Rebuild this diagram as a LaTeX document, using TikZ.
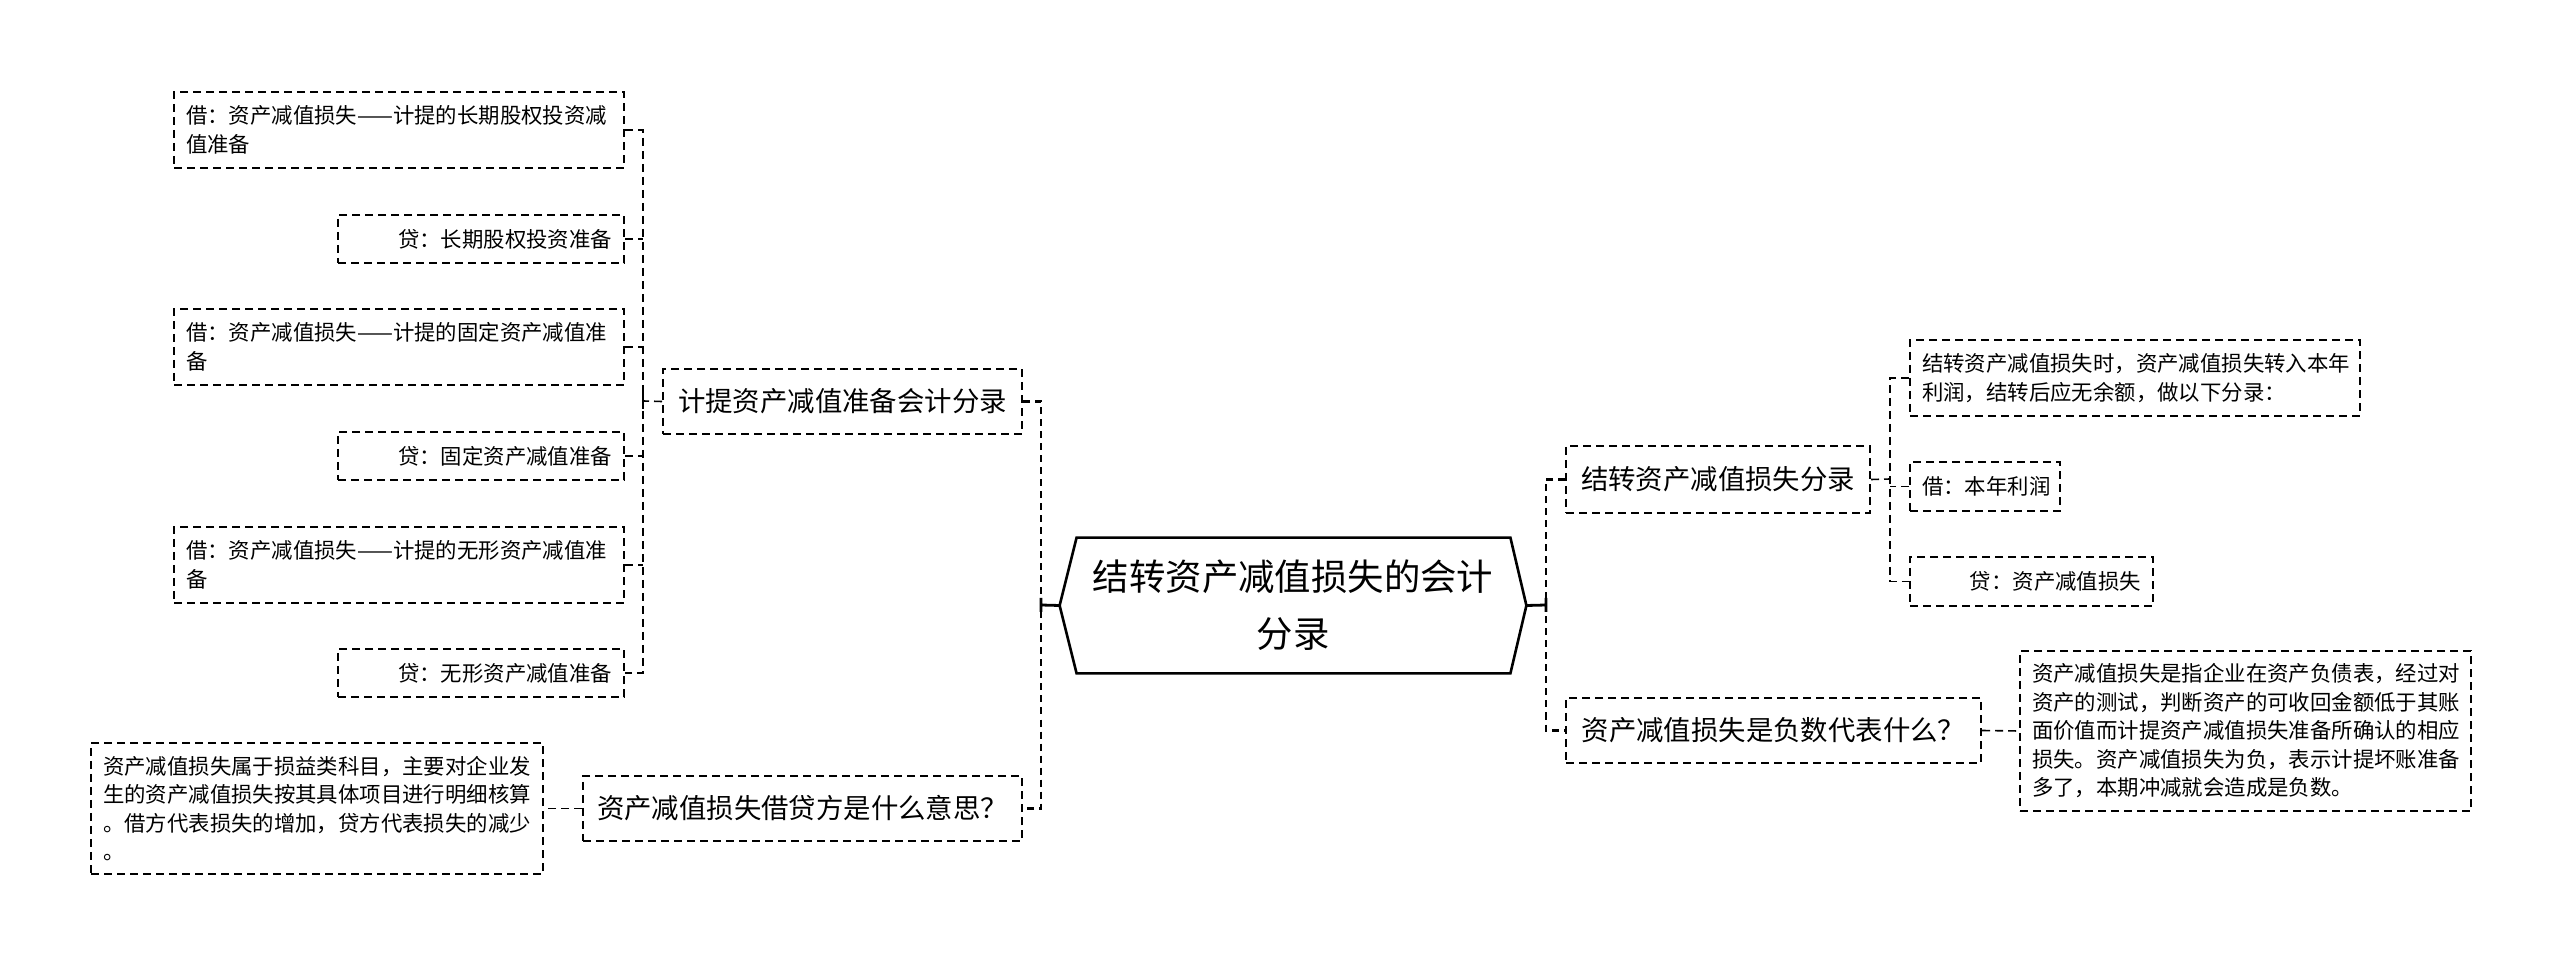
\documentclass[tikz,border=0pt]{standalone}
\usepackage{fontspec}
\setmainfont{Noto Sans CJK SC}
\tikzset{
  box/.style={draw=black, line width=1pt, dash pattern=on 4pt off 2.5pt, inner xsep=6pt, inner ysep=0pt, text=black},
  leaf/.style={box, font=\fontsize{10.7pt}{14.25pt}\selectfont, align=left},
  leafr/.style={box, font=\fontsize{10.7pt}{14.25pt}\selectfont, align=right},
  mid/.style={box, font=\fontsize{13.7pt}{16pt}\selectfont, align=center, inner xsep=0pt},
  ldash/.style={draw=black, line width=0.8pt, dash pattern=on 4pt off 2.5pt},
  cdash/.style={draw=black, line width=1.4pt, dash pattern=on 3.5pt off 2.5pt},
  csolid/.style={draw=black, line width=1.4pt},
}
\begin{document}
\begin{tikzpicture}[x=0.5pt, y=-0.5pt]
\useasboundingbox[fill=white] (0,0) rectangle (2560,967);

% central node
\node[minimum width=233pt, minimum height=67.5pt, inner sep=0pt, align=center,
      font=\fontsize{18.2pt}{28.5pt}\selectfont] (c) at (1293,605.5) {结转资产减值损失的会计\\分录};
\draw[line width=1.3pt, line join=miter] (c.west) -- ([xshift=8.5pt]c.north west) -- ([xshift=-8pt]c.north east) -- (c.east) -- ([xshift=-8pt]c.south east) -- ([xshift=8.5pt]c.south west) -- cycle;

% left mid nodes
\node[mid, minimum width=179.5pt, minimum height=32.5pt] (p1) at (842.5,401.5) {计提资产减值准备会计分录};
\node[mid, minimum width=219.5pt, minimum height=32.5pt] (p2) at (802.5,808.5) {资产减值损失借贷方是什么意思？};

% left leaves
\node[leaf, minimum width=225pt, text width=213pt, minimum height=38pt] (l1) at (399,130) {借：资产减值损失——计提的长期股权投资减\\值准备};
\node[leafr, minimum width=143pt, text width=131pt, minimum height=24pt] (l2) at (481,239) {贷：长期股权投资准备};
\node[leaf, minimum width=225pt, text width=213pt, minimum height=38pt] (l3) at (399,347) {借：资产减值损失——计提的固定资产减值准\\备};
\node[leafr, minimum width=143pt, text width=131pt, minimum height=24pt] (l4) at (481,456) {贷：固定资产减值准备};
\node[leaf, minimum width=225pt, text width=213pt, minimum height=38pt] (l5) at (399,565) {借：资产减值损失——计提的无形资产减值准\\备};
\node[leafr, minimum width=143pt, text width=131pt, minimum height=24pt] (l6) at (481,673) {贷：无形资产减值准备};
\node[leaf, minimum width=226pt, text width=214pt, minimum height=65.5pt] (l7) at (317,808.5) {资产减值损失属于损益类科目，主要对企业发\\生的资产减值损失按其具体项目进行明细核算\\。借方代表损失的增加，贷方代表损失的减少\\。};

% right mid nodes
\node[mid, minimum width=152pt, minimum height=33.5pt] (r1) at (1718,479.5) {结转资产减值损失分录};
\node[mid, minimum width=207.5pt, minimum height=32.5pt] (r2) at (1773.5,730.5) {资产减值损失是负数代表什么？};

% right leaves
\node[leaf, minimum width=225pt, text width=213pt, minimum height=38pt] (ra) at (2135,378) {结转资产减值损失时，资产减值损失转入本年\\利润，结转后应无余额，做以下分录：};
\node[leaf, minimum width=75pt, text width=63pt, minimum height=24.5pt] (rb) at (1985,486.5) {借：本年利润};
\node[leafr, minimum width=121.5pt, text width=109.5pt, minimum height=24.5pt] (rc) at (2031.5,581.5) {贷：资产减值损失};
\node[leaf, minimum width=225.5pt, text width=213.5pt, minimum height=80pt] (rd) at (2245.5,731) {资产减值损失是指企业在资产负债表，经过对\\资产的测试，判断资产的可收回金额低于其账\\面价值而计提资产减值损失准备所确认的相应\\损失。资产减值损失为负，表示计提坏账准备\\多了，本期冲减就会造成是负数。};

% junction coordinates
\coordinate (jl) at (1041,605);
\coordinate (jr) at (1546,605);
\coordinate (jx) at (643,401);
\coordinate (jy) at (1890,479);

% center connectors
\draw[csolid] (c.west) -- (jl) ++(0,-7) -- ++(0,14);
\draw[csolid] (c.east) -- (jr) ++(0,-7) -- ++(0,14);
\draw[cdash] (p1.east) -- (p1.east -| jl) -- (p2.east -| jl) -- (p2.east);
\draw[cdash] (r1.west) -- (r1.west -| jr) -- (r2.west -| jr) -- (r2.west);

% left leaf connectors
\draw[ldash] (p1.west) -- (jx);
\draw[line width=0.8pt] (jx) ++(0,-8) -- ++(0,16);
\draw[ldash] (l1.east) -- (l1.east -| jx) -- (l6.east -| jx) -- (l6.east);
\draw[ldash] (l2.east) -- (l2.east -| jx);
\draw[ldash] (l3.east) -- (l3.east -| jx);
\draw[ldash] (l4.east) -- (l4.east -| jx);
\draw[ldash] (l5.east) -- (l5.east -| jx);
\draw[ldash] (p2.west) -- (l7.east);

% right leaf connectors
\draw[ldash] (r1.east) -- (jy);
\draw[ldash] (ra.west) -- (ra.west -| jy) -- (rc.west -| jy) -- (rc.west);
\draw[ldash] (rb.west) -- (rb.west -| jy);
\draw[ldash] (r2.east) -- (rd.west);
\end{tikzpicture}
\end{document}
